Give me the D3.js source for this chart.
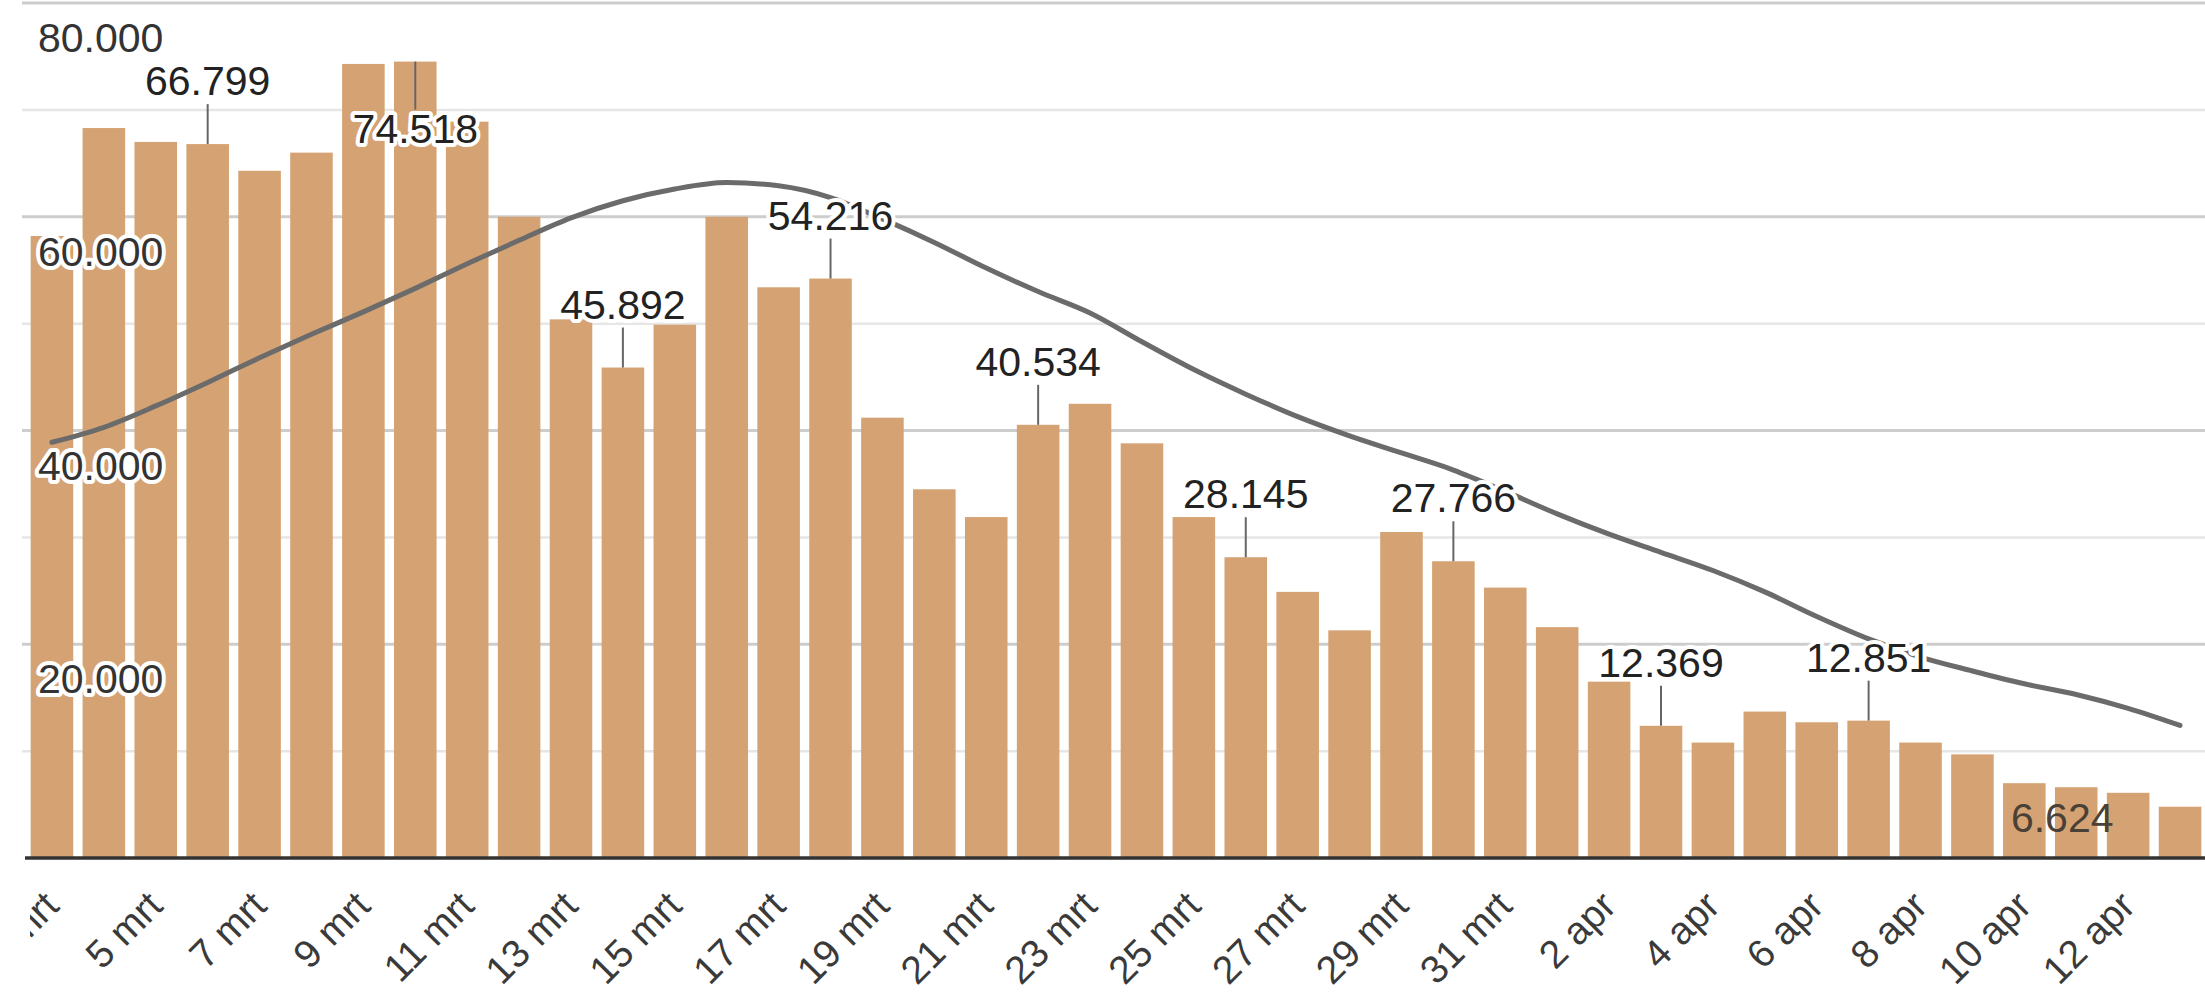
<!DOCTYPE html>
<html>
<head>
<meta charset="utf-8">
<script src="https://cdn.jsdelivr.net/npm/d3@7"></script>
<style>
	body { margin: 0; background: #fff; }
	svg { display: block; font-family: "Liberation Sans", Arial, sans-serif; }
</style>
</head>
<body>
<div id="chart"></div>
<script>
"use strict";

const chartWidth = 2205, chartHeight = 1001;

//---- Data
const dates = [
	'3 mrt', '4 mrt', '5 mrt', '6 mrt', '7 mrt', '8 mrt', '9 mrt', '10 mrt', '11 mrt', '12 mrt',
	'13 mrt', '14 mrt', '15 mrt', '16 mrt', '17 mrt', '18 mrt', '19 mrt', '20 mrt', '21 mrt', '22 mrt',
	'23 mrt', '24 mrt', '25 mrt', '26 mrt', '27 mrt', '28 mrt', '29 mrt', '30 mrt', '31 mrt', '1 apr',
	'2 apr', '3 apr', '4 apr', '5 apr', '6 apr', '7 apr', '8 apr', '9 apr', '10 apr', '11 apr',
	'12 apr', '13 apr'
];

const dailyValues = [
	58200, 68300, 67000, 66799, 64300, 66000, 74300, 74518, 68900, 60000,
	50400, 45892, 49900, 60000, 53400, 54216, 41200, 34500, 31900, 40534,
	42500, 38800, 31900, 28145, 24900, 21300, 30500, 27766, 25300, 21600,
	16500, 12369, 10800, 13700, 12700, 12851, 10800, 9700, 7000, 6624,
	6100, 4800
];

const trendValues = [
	38900, 40300, 42300, 44500, 46800, 49000, 51100, 53300, 55600, 57800,
	59900, 61500, 62600, 63200, 62900, 61800, 59800, 57600, 55200, 53000,
	51000, 48300, 45700, 43400, 41300, 39500, 37900, 36300, 34300, 32200,
	30300, 28600, 26900, 24900, 22600, 20500, 18800, 17500, 16300, 15300,
	14000, 12400
];

const annotatedDates = ['6 mrt', '10 mrt', '14 mrt', '18 mrt', '22 mrt', '26 mrt', '30 mrt', '3 apr', '7 apr', '11 apr'];
const tickDates = dates.filter((d, i) => i % 2 === 0);
const yTicks = [20000, 40000, 60000, 80000];
const yMinorTicks = [10000, 30000, 50000, 70000];

const rows = dates.map((date, i) => ({ date, value: dailyValues[i], trend: trendValues[i] }));

//---- Scales
const nl = d3.formatLocale({ decimal: ',', thousands: '.', grouping: [3], currency: ['€', ''] });
const fmt = nl.format(',d');

const x = d3.scaleBand()
	.domain(dates)
	.range([26, 2206])
	.paddingInner(0.18)
	.paddingOuter(0.09);

const y = d3.scaleLinear()
	.domain([0, 80000])
	.range([858, 3]);

const mid = d => x(d) + x.bandwidth() / 2;

//---- Chart
const svg = d3.select('#chart').append('svg')
	.attr('width', chartWidth)
	.attr('height', chartHeight)
	.attr('viewBox', [0, 0, chartWidth, chartHeight]);

svg.append('defs').append('clipPath')
	.attr('id', 'xclip')
	.append('rect')
	.attr('x', 30).attr('y', 860).attr('width', chartWidth).attr('height', 141);

// gridlines
svg.append('g')
	.selectAll('line')
	.data(yMinorTicks)
	.join('line')
	.attr('x1', 22).attr('x2', chartWidth)
	.attr('y1', d => y(d)).attr('y2', d => y(d))
	.style('stroke', '#e6e6e6')
	.style('stroke-width', 2.5);

svg.append('g')
	.selectAll('line')
	.data(yTicks)
	.join('line')
	.attr('x1', 22).attr('x2', chartWidth)
	.attr('y1', d => y(d)).attr('y2', d => y(d))
	.style('stroke', '#cdcdcd')
	.style('stroke-width', 3);

// bars
svg.append('g')
	.selectAll('rect')
	.data(rows)
	.join('rect')
	.attr('x', d => x(d.date))
	.attr('y', d => y(d.value))
	.attr('width', x.bandwidth())
	.attr('height', d => y(0) - y(d.value))
	.style('fill', '#d5a373');

// baseline
svg.append('line')
	.attr('x1', 25).attr('x2', chartWidth)
	.attr('y1', y(0)).attr('y2', y(0))
	.style('stroke', '#333')
	.style('stroke-width', 3.5);

// trend line
const line = d3.line()
	.x(d => mid(d.date))
	.y(d => y(d.trend))
	.curve(d3.curveMonotoneX);

svg.append('path')
	.datum(rows)
	.attr('d', line)
	.style('fill', 'none')
	.style('stroke', '#6b6b6b')
	.style('stroke-width', 5)
	.style('stroke-linecap', 'round');

// y labels, inside the plot just under each gridline
svg.append('g')
	.selectAll('text')
	.data(yTicks)
	.join('text')
	.attr('x', 38)
	.attr('y', d => y(d) + 49)
	.text(d => fmt(d))
	.style('font-size', '41px')
	.style('fill', '#333')
	.style('stroke', '#fff')
	.style('stroke-width', 8)
	.style('stroke-linejoin', 'round')
	.style('paint-order', 'stroke');

// x labels
svg.append('g')
	.attr('clip-path', 'url(#xclip)')
	.selectAll('text')
	.data(tickDates)
	.join('text')
	.attr('transform', d => `translate(${mid(d) + 9}, 908) rotate(-45)`)
	.attr('text-anchor', 'end')
	.text(d => d)
	.style('font-size', '39px')
	.style('fill', '#3a3a3a');

//---- Annotations
const notes = rows.filter(d => annotatedDates.includes(d.date)).map(d => {
	const top = y(d.value);
	if (d.date === '11 apr') return { ...d, mode: 'flat', tx: mid(d.date) - 14, ty: top + 45 };
	if (top - 49 - 32 < y.range()[1]) return { ...d, mode: 'below', tx: mid(d.date), ty: top + 81, s1: top, s2: top + 48 };
	return { ...d, mode: 'above', tx: mid(d.date), ty: top - 49, s1: top, s2: top - 40 };
});

svg.append('g')
	.selectAll('line')
	.data(notes.filter(n => n.mode !== 'flat'))
	.join('line')
	.attr('x1', d => d.tx)
	.attr('x2', d => d.tx)
	.attr('y1', d => d.s1)
	.attr('y2', d => d.s2)
	.style('stroke', '#666')
	.style('stroke-width', 2);

svg.append('g')
	.selectAll('text')
	.data(notes)
	.join('text')
	.attr('x', d => d.tx)
	.attr('y', d => d.ty)
	.attr('text-anchor', 'middle')
	.text(d => fmt(d.value))
	.style('font-size', '41px')
	.style('fill', d => d.mode === 'flat' ? '#4a4036' : '#222')
	.style('stroke', d => d.mode === 'flat' ? 'none' : '#fff')
	.style('stroke-width', 8)
	.style('stroke-linejoin', 'round')
	.style('paint-order', 'stroke');
</script>
</body>
</html>
